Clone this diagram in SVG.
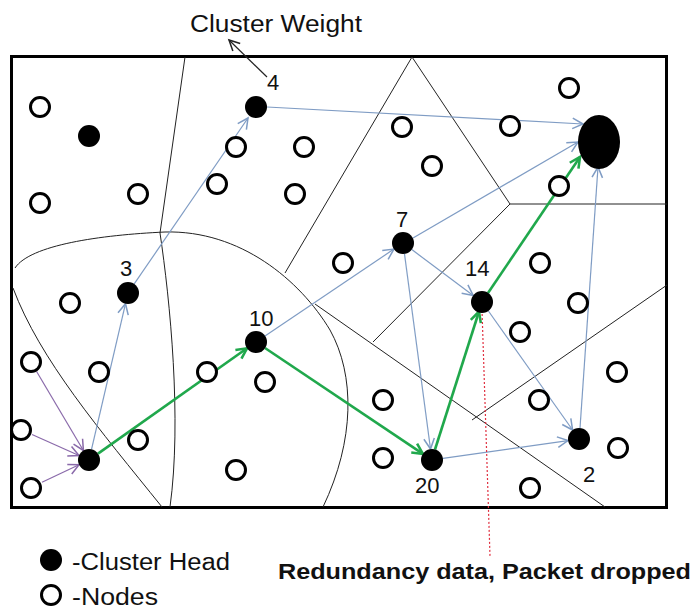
<svg xmlns="http://www.w3.org/2000/svg" width="693" height="610" viewBox="0 0 693 610">
<style>
.bd{fill:none;stroke:#222;stroke-width:1}
.o{fill:#fff;stroke:#000;stroke-width:3}
.f{fill:#000}
.b{fill:none;stroke:#7f9cc4;stroke-width:1.2;marker-end:url(#ab)}
.g{fill:none;stroke:#20a84c;stroke-width:2.6;marker-end:url(#ag)}
.p{fill:none;stroke:#8a6aaa;stroke-width:1.2;marker-end:url(#ap)}
.t{font-family:"Liberation Sans",Arial,sans-serif;font-size:22px;fill:#111}
</style>
<defs>
<marker id="ab" markerUnits="userSpaceOnUse" markerWidth="14" markerHeight="14" refX="10" refY="5" orient="auto" viewBox="0 0 12 10"><path d="M1,0.5 L10,5 L1,9.5" fill="none" stroke="#7f9cc4" stroke-width="1.3"/></marker>
<marker id="ag" markerUnits="userSpaceOnUse" markerWidth="14" markerHeight="14" refX="10" refY="5" orient="auto" viewBox="0 0 12 10"><path d="M1,0.5 L10,5 L1,9.5" fill="none" stroke="#20a84c" stroke-width="2.2"/></marker>
<marker id="ap" markerUnits="userSpaceOnUse" markerWidth="14" markerHeight="14" refX="10" refY="5" orient="auto" viewBox="0 0 12 10"><path d="M1,0.5 L10,5 L1,9.5" fill="none" stroke="#8a6aaa" stroke-width="1.3"/></marker>
<marker id="ak" markerUnits="userSpaceOnUse" markerWidth="14" markerHeight="14" refX="10" refY="5" orient="auto" viewBox="0 0 12 10"><path d="M1,0.5 L10,5 L1,9.5" fill="none" stroke="#222" stroke-width="1.3"/></marker>
</defs>
<rect x="11.5" y="56.5" width="655" height="451" fill="#fff" stroke="#000" stroke-width="3"/>
<g id="boundaries">
<path class="bd" d="M185,57 L160,233 C170,300 182,420 170,507"/>
<path class="bd" d="M412,57 L285,273"/>
<path class="bd" d="M412,57 L510,204 L667,204"/>
<path class="bd" d="M510,204 L373,342"/>
<path class="bd" d="M315,304 L605,507"/>
<path class="bd" d="M667,285 L472,420"/>
<path class="bd" d="M15,268 C30,245 100,235 165,232 C240,230 300,280 330,330 C355,375 355,440 323,507"/>
<path class="bd" d="M13,288 C40,360 100,430 162,507"/>
</g>
<g id="connectors">
<path class="b" d="M91.5,449.3 L125.5,303.7"/>
<path class="b" d="M134.2,283.9 L248,118"/>
<path class="b" d="M267,107 L583,124"/>
<path class="b" d="M265,336 L393.9,249.1"/>
<path class="b" d="M413,238 L578,142"/>
<path class="b" d="M411.8,249.6 L473.2,295.4"/>
<path class="b" d="M404.5,254 L430.5,449"/>
<path class="b" d="M488.4,311 L572.6,430"/>
<path class="b" d="M443,458.4 L568,440.6"/>
<path class="b" d="M580,428 L598,167"/>
<path class="g" d="M98,453.6 L247,348.3"/>
<path class="g" d="M265,348 L422.9,453.9"/>
<path class="g" d="M435,449.5 L479,311.5"/>
<path class="g" d="M488,293 L580,157"/>
<path class="p" d="M36.6,371.5 L83.4,450.5"/>
<path class="p" d="M32,434.5 L79,455.5"/>
<path class="p" d="M42,482.3 L79,464.7"/>
<path d="M267,77 L229,40" fill="none" stroke="#222" stroke-width="1.2" marker-end="url(#ak)"/>
<path d="M482,310 L490,556" fill="none" stroke="#e03040" stroke-width="1.2" stroke-dasharray="2,2"/>
</g>
<g id="sink"><ellipse cx="599" cy="142" rx="21" ry="27" class="f"/></g>
<g id="ch4"><circle cx="256" cy="107" r="11" class="f"/><text class="t" x="267" y="90">4</text></g>
<g id="ch-a"><circle cx="89" cy="136" r="11" class="f"/></g>
<g id="ch3"><circle cx="128" cy="293" r="11" class="f"/><text class="t" x="120" y="276">3</text></g>
<g id="ch10"><circle cx="256" cy="342" r="11" class="f"/><text class="t" x="249" y="326">10</text></g>
<g id="ch7"><circle cx="403" cy="243" r="11" class="f"/><text class="t" x="396" y="227">7</text></g>
<g id="ch14"><circle cx="482" cy="302" r="11" class="f"/><text class="t" x="465" y="276">14</text></g>
<g id="ch2"><circle cx="579" cy="439" r="11" class="f"/><text class="t" x="583" y="482">2</text></g>
<g id="ch20"><circle cx="432" cy="460" r="11" class="f"/><text class="t" x="415" y="493">20</text></g>
<g id="ch-src"><circle cx="89" cy="460" r="11" class="f"/></g>
<g id="nodes">
<circle class="o" cx="40" cy="107" r="9.5"/>
<circle class="o" cx="236" cy="147" r="9.5"/>
<circle class="o" cx="304" cy="147" r="9.5"/>
<circle class="o" cx="217" cy="184" r="9.5"/>
<circle class="o" cx="138" cy="194" r="9.5"/>
<circle class="o" cx="295" cy="194" r="9.5"/>
<circle class="o" cx="40" cy="203" r="9.5"/>
<circle class="o" cx="569" cy="88" r="9.5"/>
<circle class="o" cx="402" cy="127" r="9.5"/>
<circle class="o" cx="510" cy="126" r="9.5"/>
<circle class="o" cx="432" cy="166" r="9.5"/>
<circle class="o" cx="559" cy="186" r="9.5"/>
<circle class="o" cx="70" cy="303" r="9.5"/>
<circle class="o" cx="31" cy="362" r="9.5"/>
<circle class="o" cx="99" cy="372" r="9.5"/>
<circle class="o" cx="207" cy="372" r="9.5"/>
<circle class="o" cx="265" cy="382" r="9.5"/>
<circle class="o" cx="21" cy="430" r="9.5"/>
<circle class="o" cx="138" cy="440" r="9.5"/>
<circle class="o" cx="31" cy="488" r="9.5"/>
<circle class="o" cx="236" cy="470" r="9.5"/>
<circle class="o" cx="343" cy="263" r="9.5"/>
<circle class="o" cx="540" cy="263" r="9.5"/>
<circle class="o" cx="578" cy="303" r="9.5"/>
<circle class="o" cx="520" cy="332" r="9.5"/>
<circle class="o" cx="617" cy="372" r="9.5"/>
<circle class="o" cx="383" cy="400" r="9.5"/>
<circle class="o" cx="539" cy="400" r="9.5"/>
<circle class="o" cx="618" cy="448" r="9.5"/>
<circle class="o" cx="383" cy="458" r="9.5"/>
<circle class="o" cx="530" cy="488" r="9.5"/>
</g>
<text class="t" x="190" y="32" style="font-size:23px" textLength="172" lengthAdjust="spacingAndGlyphs">Cluster Weight</text>
<g id="legend">
<circle cx="51" cy="560" r="11" class="f"/>
<text class="t" x="72" y="570" style="font-size:23px" textLength="158" lengthAdjust="spacingAndGlyphs">-Cluster Head</text>
<circle cx="51" cy="595" r="9.5" class="o"/>
<text class="t" x="72" y="605" style="font-size:23px" textLength="86" lengthAdjust="spacingAndGlyphs">-Nodes</text>
</g>
<text x="278" y="579" style="font-family:'Liberation Sans',Arial,sans-serif;font-size:22px;font-weight:bold;fill:#111" textLength="413" lengthAdjust="spacingAndGlyphs">Redundancy data, Packet dropped</text>
</svg>
